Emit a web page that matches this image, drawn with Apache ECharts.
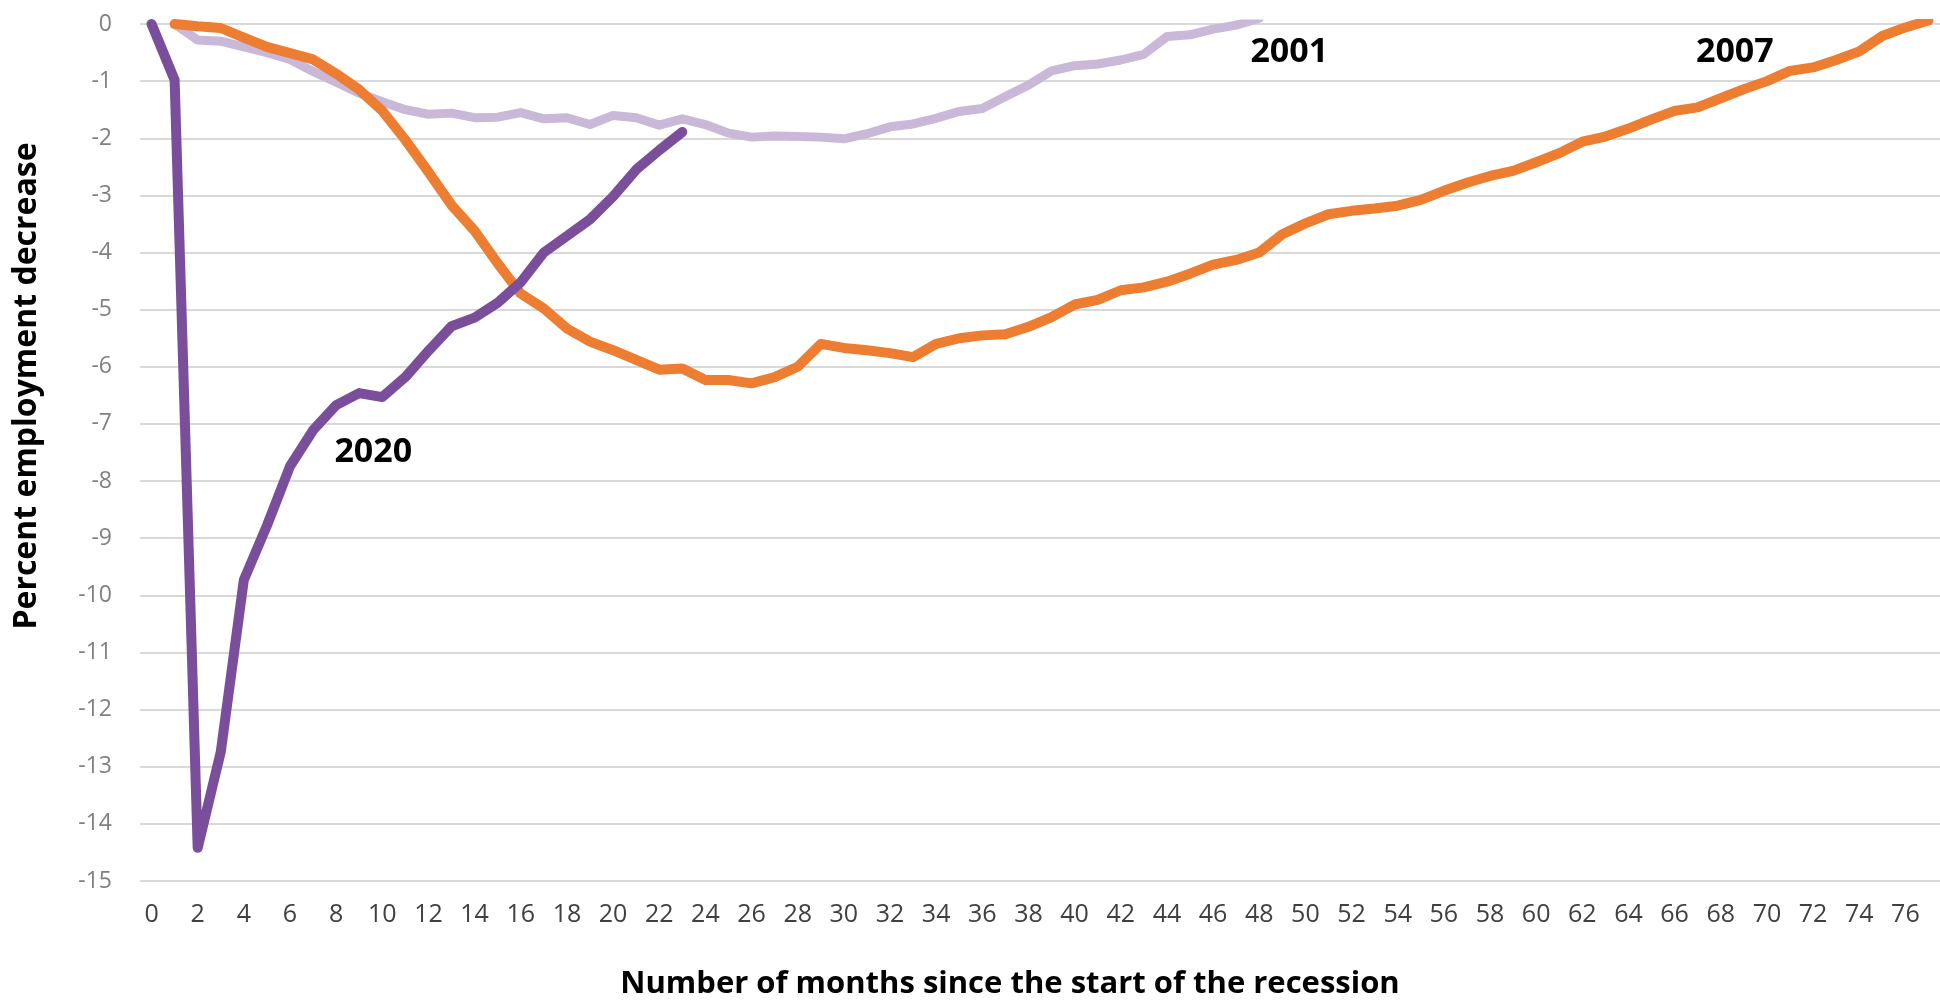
<!DOCTYPE html>
<html>
<head>
<meta charset="utf-8">
<title>Percent employment decrease by months since the start of the recession</title>
<script src="https://cdn.jsdelivr.net/npm/echarts@6/dist/echarts.min.js"></script>
<style>
  html, body { margin: 0; padding: 0; background: #ffffff; }
  #chart { width: 1940px; height: 1000px; }
</style>
</head>
<body>
<div id="chart"></div>
<script>
// months since the start of the recession (category axis)
const months = [
  '0','1','2','3','4','5','6','7','8','9','10','11','12','13','14','15','16','17','18','19',
  '20','21','22','23','24','25','26','27','28','29','30','31','32','33','34','35','36','37','38','39',
  '40','41','42','43','44','45','46','47','48','49','50','51','52','53','54','55','56','57','58','59',
  '60','61','62','63','64','65','66','67','68','69','70','71','72','73','74','75','76','77'
];

// percent change in employment
const rec2001 = [
  null, 0, -0.28, -0.30, -0.40, -0.50, -0.62, -0.83, -1.02, -1.21,
  -1.36, -1.50, -1.58, -1.56, -1.64, -1.63, -1.55, -1.66, -1.64, -1.76,
  -1.60, -1.64, -1.77, -1.66, -1.76, -1.91, -1.98, -1.96, -1.97, -1.98,
  -2.01, -1.92, -1.80, -1.75, -1.65, -1.53, -1.48, -1.27, -1.07, -0.82,
  -0.73, -0.70, -0.63, -0.53, -0.22, -0.19, -0.09, -0.02, 0.10
];

const rec2007 = [
  null, 0, -0.04, -0.07, -0.24, -0.40, -0.51, -0.62, -0.87, -1.15,
  -1.52, -2.03, -2.59, -3.17, -3.62, -4.19, -4.72, -4.98, -5.33, -5.56,
  -5.71, -5.88, -6.05, -6.03, -6.23, -6.23, -6.29, -6.18, -6.00, -5.60,
  -5.67, -5.71, -5.76, -5.83, -5.60, -5.50, -5.45, -5.43, -5.30, -5.13,
  -4.91, -4.83, -4.66, -4.61, -4.51, -4.37, -4.21, -4.13, -4.00, -3.68,
  -3.49, -3.33, -3.27, -3.23, -3.18, -3.08, -2.92, -2.78, -2.66, -2.57,
  -2.42, -2.26, -2.06, -1.97, -1.83, -1.67, -1.52, -1.46, -1.30, -1.14,
  -1.00, -0.82, -0.76, -0.63, -0.48, -0.21, -0.06, 0.06
];

const rec2020 = [
  0, -0.98, -14.42, -12.74, -9.73, -8.78, -7.74, -7.11, -6.67, -6.46,
  -6.53, -6.18, -5.72, -5.29, -5.14, -4.88, -4.52, -4.00, -3.71, -3.42,
  -3.02, -2.55, -2.21, -1.89
];

// in-chart series labels: [text, month, value]
const seriesLabels2001 = ['2001', '49', -0.5];
const seriesLabels2007 = ['2007', '69', -0.5];
const seriesLabels2020 = ['2020', '10', -7.5];

const yTitle = 'Percent employment decrease';
const xTitle = 'Number of months since the start of the recession';

const FONT = '"Open Sans", "Liberation Sans", sans-serif';

function seriesLabel(lbl, dx) {
    return {
        symbol: 'circle',
        symbolSize: 1,
        itemStyle: { color: 'rgba(0,0,0,0)' },
        silent: true,
        label: {
            show: true,
            position: 'inside',
            offset: [dx, 0],
            formatter: '{b}',
            color: '#000000',
            fontFamily: FONT,
            fontWeight: 'bold',
            fontSize: 34
        },
        data: [{ name: lbl[0], coord: [lbl[1], lbl[2]] }]
    };
}

function lineSeries(name, data, color, width, z, lbl, dx) {
    return {
        name: name,
        type: 'line',
        data: data,
        z: z,
        symbol: 'none',
        clip: true,
        lineStyle: { color: color, width: width, cap: 'round', join: 'round' },
        itemStyle: { color: color },
        markPoint: seriesLabel(lbl, dx)
    };
}

const chart = echarts.init(document.getElementById('chart'), null, {renderer: 'canvas'});

const option = {
    animation: false,
    backgroundColor: '#ffffff',
    grid: { left: 140, right: -8, top: 24, bottom: 119 },
    xAxis: {
        type: 'category',
        data: months,
        boundaryGap: true,
        axisLine: { show: false },
        axisTick: { show: false },
        axisLabel: {
            interval: 1,
            margin: 21,
            color: '#404040',
            fontFamily: FONT,
            fontSize: 25
        },
        splitLine: { show: false }
    },
    yAxis: {
        type: 'value',
        min: -15,
        max: 0,
        interval: 1,
        axisLine: { show: false },
        axisTick: { show: false },
        axisLabel: {
            margin: 28,
            color: '#808080',
            fontFamily: FONT,
            fontSize: 23
        },
        splitLine: { lineStyle: { color: '#d9d9d9', width: 2 } }
    },
    series: [
        lineSeries('2001', rec2001, '#c9b8d7', 9, 2, seriesLabels2001, 7),
        lineSeries('2007', rec2007, '#ed7d31', 10, 3, seriesLabels2007, -9),
        lineSeries('2020', rec2020, '#7a4e9a', 10, 4, seriesLabels2020, -9)
    ],
    graphic: [
        {
            type: 'text',
            x: 27,
            y: 386,
            rotation: Math.PI / 2,
            style: {
                text: yTitle,
                fill: '#000000',
                font: 'bold 32px ' + FONT,
                textAlign: 'center',
                textVerticalAlign: 'middle'
            }
        },
        {
            type: 'text',
            x: 1010,
            y: 984,
            style: {
                text: xTitle,
                fill: '#000000',
                font: 'bold 31px ' + FONT,
                textAlign: 'center',
                textVerticalAlign: 'middle'
            }
        }
    ]
};

chart.setOption(option);
</script>
</body>
</html>
